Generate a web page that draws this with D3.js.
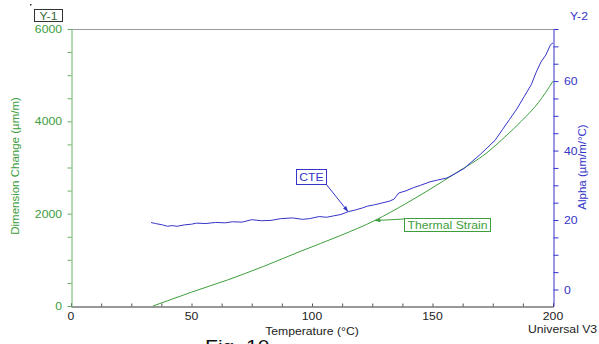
<!DOCTYPE html>
<html><head><meta charset="utf-8">
<script src="https://cdn.jsdelivr.net/npm/d3@7"></script>
<style>html,body{margin:0;padding:0;background:#fff;overflow:hidden}svg{display:block}</style>
</head><body>
<script>
// ---- data ----
const strainTemp = [34, 41, 50, 65, 80, 95, 112, 126, 139, 149, 160, 172.6, 180, 187, 194, 200];
const strainVals = [0, 130, 300, 565, 860, 1180, 1530, 1850, 2220, 2530, 2890, 3320, 3660, 4010, 4410, 4870];
const cteTemp = [33.2,35,38,40,42,44,47,50,52,56,60,64,67,71,75,79,83,87,92,96,99,103,106,109,112,115,118,121,123,126,129,132,134,136,139,142,145,149,152,156,159,163,166,170,173,176,179,182,185,188,191,193,195,197,199,200];
const cteVals = [19.3,19.0,18.6,18.2,18.4,18.2,18.6,18.8,19.1,19.0,19.3,19.2,19.5,19.4,20.1,19.8,19.9,20.4,20.6,20.2,20.4,21.0,20.8,21.2,21.6,22.4,22.9,23.5,24.0,24.4,24.9,25.4,26.0,27.8,28.4,29.3,30.0,31.0,31.5,32.1,33.2,34.8,36.6,39.0,41.0,43.0,46.0,49.0,52.0,55.5,59.0,62.5,65.5,67.5,70.5,71.0];
const xTicks = [0, 50, 100, 150, 200];
const y1Ticks = [0, 2000, 4000, 6000];
const y2Ticks = [0, 20, 40, 60];

const W = 599, H = 344;
const L = 71, R = 553, T = 29, B = 306;
const GREEN = "#3d9e3d", GREEN_AX = "#6ab06a", BLUE = "#3535c8", FONT = "Liberation Sans, Arial, sans-serif";
const SX = 1.11;

const svg = d3.select("body").append("svg").attr("width", W).attr("height", H)
  .style("font-family", FONT);

const x = d3.scaleLinear().domain([0, 200]).range([L, R]);
const y1 = d3.scaleLinear().domain([0, 6000]).range([B, T]);
const y2 = d3.scaleLinear().domain([-4.75, 75]).range([B, T]);

function stext(g, px, py, str, size, color, anchor) {
  return g.append("text")
    .attr("transform", `translate(${px},${py}) scale(${SX},1)`)
    .attr("text-anchor", anchor || "start")
    .attr("font-size", size).attr("fill", color).text(str);
}

// top border
svg.append("line").attr("x1", L).attr("x2", R).attr("y1", T + 0.5).attr("y2", T + 0.5)
  .attr("stroke", "#9a9a9a").attr("stroke-width", 1);

// bottom axis
const gx = svg.append("g").attr("transform", `translate(0,${B + 0.5})`);
gx.call(d3.axisBottom(x).tickValues(d3.range(0, 201, 12.5)).tickSize(-3).tickFormat(""));
gx.select(".domain").attr("stroke", "#333");
gx.selectAll(".tick line").attr("stroke", "#555");
xTicks.forEach(v => stext(svg, x(v), 320, v, 11, "#222", "middle"));

// left axis
const gl = svg.append("g").attr("transform", `translate(${L + 0.5},0)`);
gl.call(d3.axisLeft(y1).tickValues(d3.range(0, 6001, 500)).tickSize(4).tickSizeOuter(0).tickFormat(""));
gl.select(".domain").attr("stroke", GREEN_AX);
gl.selectAll(".tick line").attr("stroke", GREEN_AX);
y1Ticks.forEach(v => stext(svg, 62, y1(v) + 4, v, 11, GREEN, "end"));

// right axis
const gr = svg.append("g").attr("transform", `translate(${R + 0.5},0)`);
gr.call(d3.axisRight(y2).tickValues(d3.range(0, 76, 5)).tickSize(5).tickSizeOuter(0).tickFormat(""));
gr.select(".domain").attr("stroke", BLUE);
gr.selectAll(".tick line").attr("stroke", BLUE);
y2Ticks.forEach(v => stext(svg, 564, y2(v) + 4, v, 11, BLUE, "start"));

// curves
const strainData = strainTemp.map((t, i) => [t, strainVals[i]]);
const cteData = cteTemp.map((t, i) => [t, cteVals[i]]);
svg.append("path").datum(strainData)
  .attr("d", d3.line().x(d => x(d[0])).y(d => y1(d[1])).curve(d3.curveMonotoneX))
  .attr("fill", "none").attr("stroke", GREEN).attr("stroke-width", 1);
svg.append("path").datum(cteData)
  .attr("d", d3.line().x(d => x(d[0])).y(d => y2(d[1])))
  .attr("fill", "none").attr("stroke", BLUE).attr("stroke-width", 1);

// axis titles
svg.append("text").attr("transform", `translate(19,166) rotate(-90)`)
  .attr("text-anchor", "middle").attr("font-size", 11.5).attr("fill", GREEN)
  .text("Dimension Change (\u00b5m/m)");
svg.append("text").attr("transform", `translate(586,167) rotate(-90)`)
  .attr("text-anchor", "middle").attr("font-size", 11.5).attr("fill", BLUE)
  .text("Alpha (\u00b5m/m/\u00b0C)");
stext(svg, 312, 335, "Temperature (\u00b0C)", 11, "#222", "middle");
stext(svg, 528, 333, "Universal V3", 11, "#222", "start");

// Y-1 / Y-2 labels
svg.append("rect").attr("x", 34.5).attr("y", 9.5).attr("width", 28).attr("height", 12)
  .attr("fill", "none").attr("stroke", "#333").attr("stroke-width", 1);
stext(svg, 48.5, 19.5, "Y-1", 11, "#3a6a3a", "middle");
stext(svg, 579, 20, "Y-2", 11, BLUE, "middle");
svg.append("rect").attr("x", 30).attr("y", 4).attr("width", 1.5).attr("height", 1.5).attr("fill", "#333");

// annotations
function arrow(x1, yA, x2, yB, color) {
  svg.append("line").attr("x1", x1).attr("y1", yA).attr("x2", x2).attr("y2", yB)
    .attr("stroke", color).attr("stroke-width", 1);
  const a = Math.atan2(yB - yA, x2 - x1), len = 6, w = 0.35;
  const p1 = [x2 - len * Math.cos(a - w), yB - len * Math.sin(a - w)];
  const p2 = [x2 - len * Math.cos(a + w), yB - len * Math.sin(a + w)];
  svg.append("path").attr("d", `M${x2},${yB}L${p1[0]},${p1[1]}L${p2[0]},${p2[1]}Z`).attr("fill", color);
}
// CTE
svg.append("rect").attr("x", 296.5).attr("y", 169.5).attr("width", 30).attr("height", 15)
  .attr("fill", "#fff").attr("stroke", BLUE);
stext(svg, 311.5, 181, "CTE", 11, BLUE, "middle");
arrow(326, 184, x(115), y2(22.4), BLUE);
// Thermal Strain
svg.append("rect").attr("x", 404.5).attr("y", 218.5).attr("width", 86).attr("height", 13)
  .attr("fill", "#fff").attr("stroke", GREEN);
stext(svg, 447.5, 229, "Thermal Strain", 11, GREEN, "middle");
arrow(404, 219, x(126), y1(1850), GREEN);

// caption (cut at bottom edge, as in the reference)
stext(svg, 205, 353, "Fig. 10", 19, "#111", "start");
</script>
</body></html>
